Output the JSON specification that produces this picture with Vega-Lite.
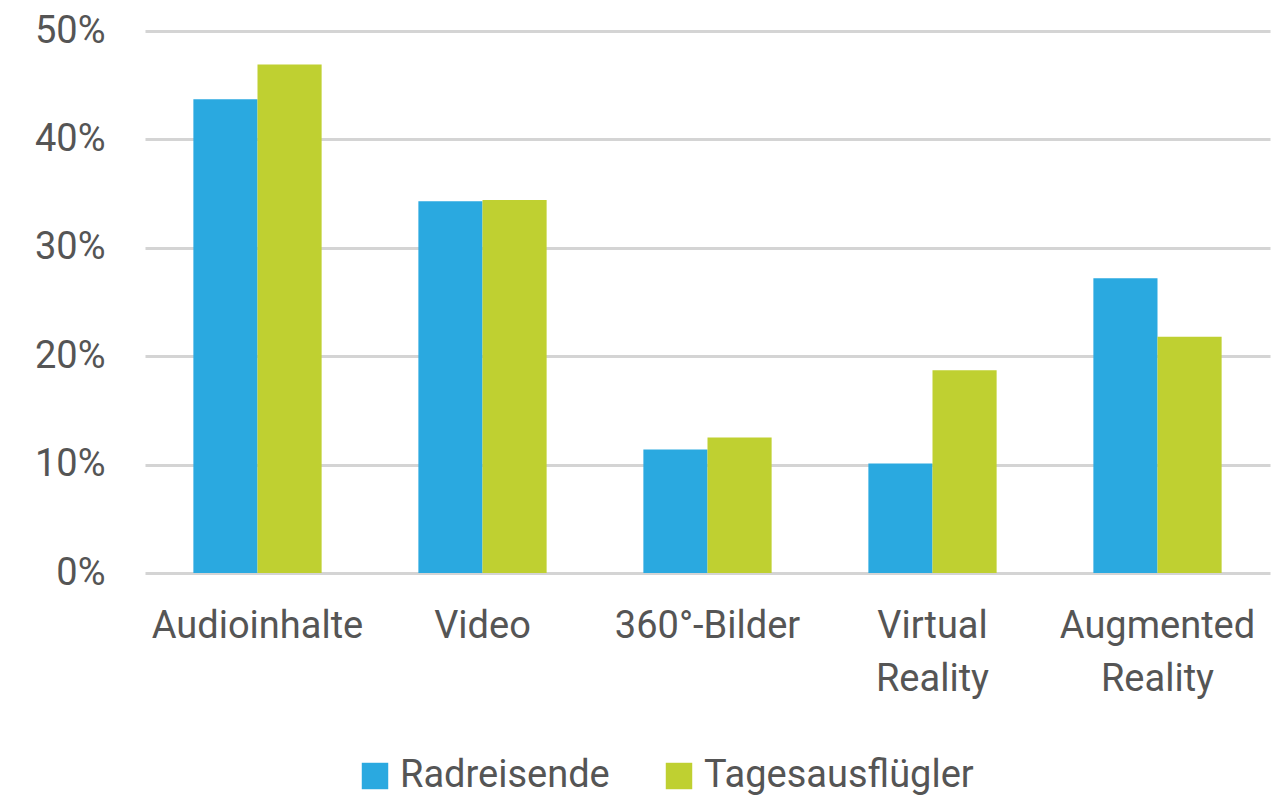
{
  "$schema": "https://vega.github.io/schema/vega-lite/v6.json",
  "width": 1125,
  "height": 542,
  "autosize": {"type": "none"},
  "padding": {"left": 145, "top": 31, "right": 10, "bottom": 223},
  "background": "white",
  "config": {
    "view": {"stroke": null},
    "font": "Roboto",
    "axis": {"labelColor": "#555555", "labelFont": "Roboto"},
    "legend": {"labelColor": "#555555", "labelFont": "Roboto"}
  },
  "data": {
    "values": [
      {"Kategorie": "Audioinhalte", "Gruppe": "Radreisende", "Anteil": 0.437},
      {"Kategorie": "Audioinhalte", "Gruppe": "Tagesausflügler", "Anteil": 0.469},
      {"Kategorie": "Video", "Gruppe": "Radreisende", "Anteil": 0.343},
      {"Kategorie": "Video", "Gruppe": "Tagesausflügler", "Anteil": 0.344},
      {"Kategorie": "360°-Bilder", "Gruppe": "Radreisende", "Anteil": 0.114},
      {"Kategorie": "360°-Bilder", "Gruppe": "Tagesausflügler", "Anteil": 0.125},
      {"Kategorie": "Virtual Reality", "Gruppe": "Radreisende", "Anteil": 0.101},
      {"Kategorie": "Virtual Reality", "Gruppe": "Tagesausflügler", "Anteil": 0.187},
      {"Kategorie": "Augmented Reality", "Gruppe": "Radreisende", "Anteil": 0.272},
      {"Kategorie": "Augmented Reality", "Gruppe": "Tagesausflügler", "Anteil": 0.218}
    ]
  },
  "mark": {"type": "bar"},
  "encoding": {
    "x": {
      "field": "Kategorie",
      "type": "nominal",
      "sort": null,
      "scale": {"paddingInner": 0.43, "paddingOuter": 0.215},
      "axis": {
        "title": null,
        "labelAngle": 0,
        "domain": false,
        "ticks": false,
        "labelPadding": 34,
        "labelFontSize": 38,
        "labelLineHeight": 53,
        "labelBaseline": "top",
        "labelLimit": 0,
        "labelExpr": "split(datum.label, ' ')"
      }
    },
    "xOffset": {"field": "Gruppe", "type": "nominal", "sort": ["Radreisende", "Tagesausflügler"], "scale": {"paddingInner": 0}},
    "y": {
      "field": "Anteil",
      "type": "quantitative",
      "scale": {"domain": [0, 0.5]},
      "axis": {
        "title": null,
        "values": [0, 0.1, 0.2, 0.3, 0.4, 0.5],
        "format": ".0%",
        "domain": false,
        "ticks": false,
        "grid": true,
        "gridColor": "#d4d4d4",
        "gridWidth": 3,
        "labelPadding": 40,
        "labelFontSize": 38
      }
    },
    "color": {
      "field": "Gruppe",
      "type": "nominal",
      "sort": ["Radreisende", "Tagesausflügler"],
      "scale": {"domain": ["Radreisende", "Tagesausflügler"], "range": ["#2aa9e0", "#bfd031"]},
      "legend": {
        "title": null,
        "orient": "none",
        "direction": "horizontal",
        "legendX": 211,
        "legendY": 726,
        "symbolType": "square",
        "symbolSize": 700,
        "symbolStrokeWidth": 0,
        "labelFontSize": 38,
        "labelOffset": 6,
        "labelLimit": 0,
        "columnPadding": 50
      }
    }
  }
}
